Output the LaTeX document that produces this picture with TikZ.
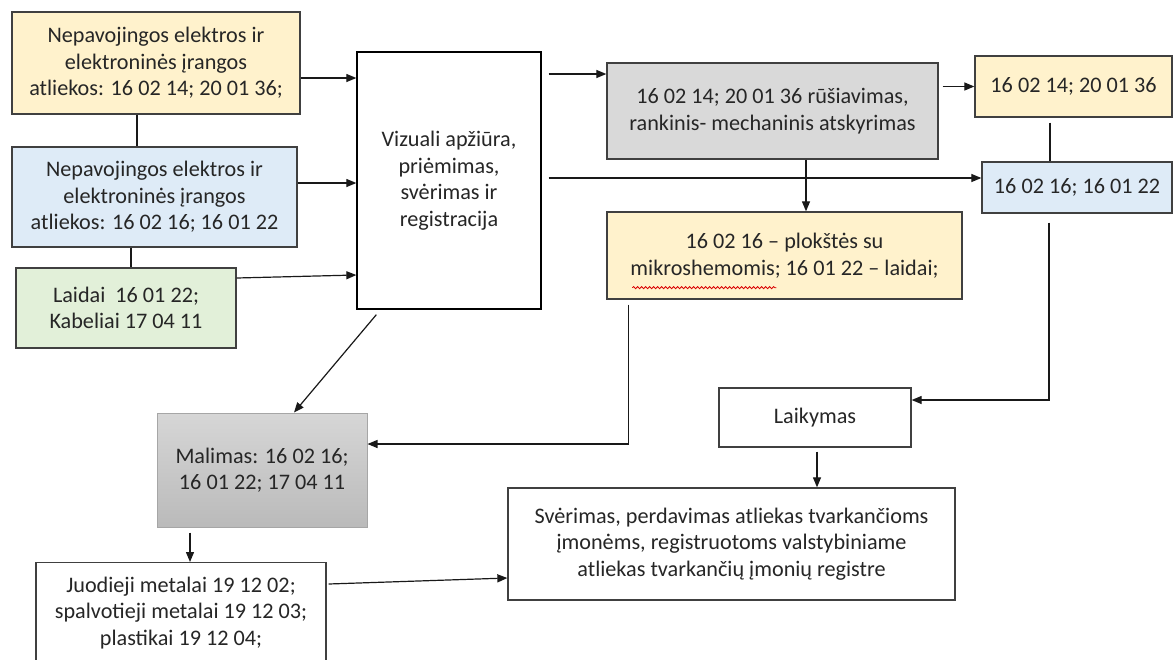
\documentclass[tikz,border=0pt]{standalone}
\usepackage{fontspec}
\setmainfont{Carlito}
\usetikzlibrary{arrows.meta,calc,decorations.pathmorphing}
\definecolor{yel}{HTML}{FFF2CC}
\definecolor{blu}{HTML}{DEEBF7}
\definecolor{grn}{HTML}{E2F0D9}
\definecolor{gry}{HTML}{D9D9D9}
\definecolor{edgec}{HTML}{404040}
\tikzset{
  box/.style={draw=edgec, line width=1.3pt, align=center, inner sep=0pt, text=black!85},
  txt/.style={align=center, inner sep=0pt, text=black!85},
  arr/.style={draw=black!90, line width=1.2pt, -{Triangle[length=10pt,width=8pt]}},
  ln/.style={draw=black!90, line width=1.2pt},
}
\begin{document}
\begin{tikzpicture}[x=1pt,y=-1pt,font=\fontsize{22.2}{26.5}\selectfont]
\useasboundingbox (0,0) rectangle (1174,659);
\fill[white] (0,0) rectangle (1174,659);
\clip (0,0) rectangle (1174,659);

% nodes
\node[box, fill=yel, minimum width=288, minimum height=102] (A) at (156,63)
  {Nepavojingos elektros ir\\elektroninės įrangos\\atliekos: 16 02 14; 20 01 36;};
\node[box, fill=blu, minimum width=285, minimum height=100] (B) at (154.5,197)
  {Nepavojingos elektros ir\\elektroninės įrangos\\atliekos: 16 02 16; 16 01 22};
\node[box, fill=grn, minimum width=220, minimum height=80] (C) at (126,308)
  {Laidai\ \ 16 01 22;\\Kabeliai 17 04 11};
\node[box, draw=black, minimum width=184, minimum height=257] (V) at (449,180.5)
  {Vizuali apžiūra,\\priėmimas,\\svėrimas ir\\registracija};
\node[box, fill=gry, minimum width=331, minimum height=96] (G) at (772.5,111)
  {16 02 14; 20 01 36 rūšiavimas,\\rankinis- mechaninis atskyrimas};
\node[box, fill=yel, minimum width=197, minimum height=61] (Y2) at (1073.5,86.5)
  {16 02 14; 20 01 36};
\node[box, fill=blu, minimum width=190, minimum height=51] (B2) at (1077,187.5)
  {16 02 16; 16 01 22};
\node[box, fill=yel, minimum width=355, minimum height=87] (P) at (784.5,255.5)
  {16 02 16 -- plokštės su\\mikroshemomis; 16 01 22 -- laidai;};
\node[box, minimum width=192, minimum height=59] (L) at (815,417.5) {Laikymas};
\node[box, draw=black!35, line width=1pt, top color=black!16, bottom color=black!27,
  minimum width=210, minimum height=114] (M) at (262,470)
  {Malimas: 16 02 16;\\16 01 22; 17 04 11};
\node[box, minimum width=290, minimum height=120, anchor=north] (J) at (181,562) {};
\node[txt] (Jt) at (181,613)
  {Juodieji metalai 19 12 02;\\spalvotieji metalai 19 12 03;\\plastikai 19 12 04;};
\node[box, minimum width=447, minimum height=112] (S) at (731.5,544)
  {Svėrimas, perdavimas atliekas tvarkančioms\\įmonėms, registruotoms valstybiniame\\atliekas tvarkančių įmonių registre};

% spell-check wave
\draw[red!85!black, line width=0.8pt, decorate,
  decoration={snake, amplitude=1.1pt, segment length=4pt}]
  ($(P.south west)+(26,-12)$) -- ($(P.south west)+(170,-12)$);

% helper coordinates
\coordinate (ab) at ($(A.south)+(-19,0)$);
\coordinate (bc) at ($(B.south)+(-23.5,0)$);
\coordinate (vg) at ([yshift=37pt]G.west);
\coordinate (vb) at ([yshift=9.5pt]B2.west);
\coordinate (yb) at ($(Y2.south)+(-23.5,5)$);
\coordinate (gp) at ($(G.south)+(33.5,0)$);
\coordinate (bl) at ($(B2.south)+(-28,9)$);
\coordinate (pm) at ($(P.south west)+(22,5)$);
\coordinate (vm) at ($(V.south west)+(20,5)$);
\coordinate (mj) at ($(M.south)+(-72,5)$);
\coordinate (ls) at ($(L.south)+(2,4)$);

% connectors
\draw[arr] ([yshift=-15pt]A.east) -- ([yshift=-15pt]A.east -| V.west);
\draw[arr] ([yshift=14pt]B.east) -- ([yshift=14pt]B.east -| V.west);
\draw[arr] ([yshift=30pt]C.east) -- ([yshift=-94.5pt]V.west);
\draw[ln] (ab) -- (ab |- B.north);
\draw[ln] (bc) -- (bc |- C.north);
\draw[arr] (V.east |- vg) ++(7,0) -- (vg);
\draw[arr] (V.east |- vb) ++(7,0) -- (vb);
\draw[arr] ($(G.east |- Y2.west)+(4,0)$) -- (Y2.west);
\draw[ln] (yb) -- (yb |- B2.north);
\draw[arr] (gp) -- (gp |- P.north);
\draw[arr] (bl) |- ([yshift=17.5pt]L.east);
\draw[arr] (pm) |- ([yshift=26pt]M.east);
\draw[arr] (vm) -- ($(M.north)+(32,0)$);
\draw[arr] (mj) -- (mj |- J.north);
\draw[arr] ($(J.north east)+(2,22)$) -- ($(S.west)+(0,34)$);
\draw[arr] (ls) -- (ls |- S.north);
\end{tikzpicture}
\end{document}
